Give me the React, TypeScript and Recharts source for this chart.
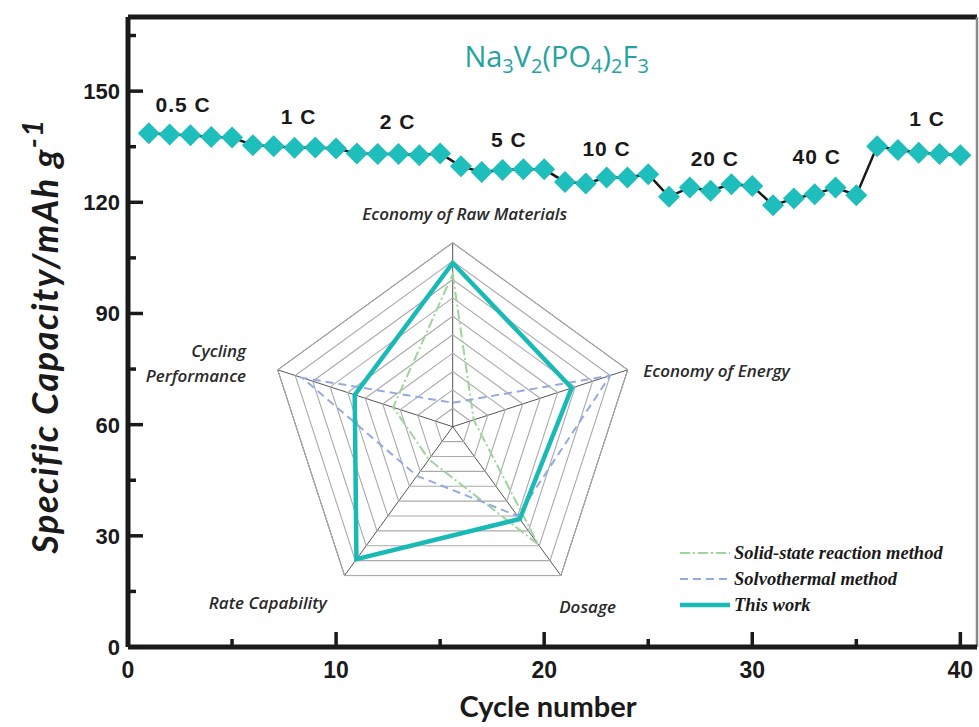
import React from 'react';
import {
  LineChart, Line, XAxis, YAxis, ReferenceDot, ReferenceLine,
  RadarChart, Radar, PolarGrid, PolarAngleAxis, PolarRadiusAxis, Legend,
} from 'recharts';

// ---------- main chart data ----------
const cycles = [1, 2, 3, 4, 5, 6, 7, 8, 9, 10, 11, 12, 13, 14, 15, 16, 17, 18, 19, 20,
  21, 22, 23, 24, 25, 26, 27, 28, 29, 30, 31, 32, 33, 34, 35, 36, 37, 38, 39, 40];
const capacity = [138.6, 138.3, 138.1, 137.6, 137.5, 135.4, 135.1, 134.7, 134.8, 134.5,
  133.2, 133.0, 133.0, 132.7, 133.2, 129.7, 128.2, 128.7, 128.9, 128.9,
  125.5, 125.1, 126.7, 126.7, 127.6, 121.5, 124.0, 123.1, 124.9, 124.4,
  119.2, 121.0, 122.2, 124.0, 121.9, 135.1, 134.1, 133.4, 133.0, 132.7];

const rateLabels = ['0.5 C', '1 C', '2 C', '5 C', '10 C', '20 C', '40 C', '1 C'];
const rateLabelCycle = [2.65, 8.2, 12.95, 18.3, 23.0, 28.2, 33.1, 38.4];
const rateLabelCapacity = [146.2, 143.1, 141.7, 136.8, 134.3, 131.6, 132.3, 142.4];

const xTicks = [0, 5, 10, 15, 20, 25, 30, 35, 40];
const yTicks = [0, 15, 30, 45, 60, 75, 90, 105, 120, 135, 150, 165];
const xDomain = [0, 40.8];
const yDomain = [0, 170];

// ---------- radar inset data ----------
const radarAxes = ['Economy of Raw Materials', 'Economy of Energy', 'Dosage', 'Rate Capability', 'Cycling Performance'];
const solidState = [8.3, 1.2, 7.9, 2.2, 3.4];
const solvothermal = [1.3, 9.0, 6.0, 3.3, 8.6];
const thisWork = [8.9, 6.8, 6.2, 8.9, 5.6];
const seriesNames = ['Solid-state reaction method', 'Solvothermal method', 'This work'];
const radarLevels = [1, 2, 3, 4, 5, 6, 7, 8, 9, 10];

const mainData = cycles.map((c, i) => ({ cycle: c, capacity: capacity[i] }));
const radarData = radarAxes.map((a, i) => ({
  axis: a,
  solid: solidState[i],
  solvo: solvothermal[i],
  work: thisWork[i],
}));

const TEAL = '#1EBEBC';
const INK = '#1a1a1a';
const R_OUT = 184;

const XTick = (props: any) => {
  const { x, y, payload } = props;
  const major = payload.value % 10 === 0;
  return (
    <g>
      <line x1={x} x2={x} y1={y} y2={y - (major ? 15 : 8)} stroke={INK} strokeWidth={3.5} />
      {major && (
        <text x={x} y={y + 31} textAnchor="middle" fill={INK}
          style={{ fontFamily: "'Liberation Sans Narrow', 'Liberation Sans', sans-serif", fontWeight: 700, fontSize: 23 }}>
          {payload.value}
        </text>
      )}
    </g>
  );
};

const YTick = (props: any) => {
  const { x, y, payload } = props;
  const major = payload.value % 30 === 0;
  return (
    <g>
      <line x1={x} x2={x + (major ? 15 : 8)} y1={y} y2={y} stroke={INK} strokeWidth={3.5} />
      {major && (
        <text x={x - 8} y={y + 8} textAnchor="end" fill={INK}
          style={{ fontFamily: "'Liberation Sans', Arial, sans-serif", fontWeight: 700, fontSize: 22 }}>
          {payload.value}
        </text>
      )}
    </g>
  );
};

const Diamond = (props: any) => {
  const { cx, cy, index } = props;
  if (cx == null || cy == null) return <g key={index} />;
  const s = 11;
  return (
    <path key={index} d={`M${cx},${cy - s}L${cx + s},${cy}L${cx},${cy + s}L${cx - s},${cy}Z`} fill={TEAL} stroke="none" />
  );
};

const YLabel = () => {
  const x = 58;
  const y = 336;
  return (
    <text x={x} y={y} transform={`rotate(-90 ${x} ${y})`} textAnchor="middle" fill={INK}
      style={{ fontFamily: 'Lato, sans-serif', fontStyle: 'italic', fontWeight: 700, fontSize: 36, letterSpacing: 1.5 }}>
      Specific Capacity/mAh g<tspan dy={-15} fontSize={29}>-1</tspan>
    </text>
  );
};

const XLabel = () => (
  <text x={548} y={717} textAnchor="middle" fill={INK}
    style={{ fontFamily: 'Lato, sans-serif', fontWeight: 700, fontSize: 29 }}>
    Cycle number
  </text>
);

const RadarTick = (props: any) => {
  const { x, y, payload } = props;
  const idx = radarAxes.indexOf(payload.value);
  const st = { fontFamily: "'Open Sans', sans-serif", fontStyle: 'italic' as const, fontWeight: 600, fontSize: 17, fill: '#2a2a2a' };
  if (idx === 0) return <text x={x + 12} y={y - 15} textAnchor="middle" style={st}>{payload.value}</text>;
  if (idx === 1) return <text x={x + 8} y={y + 10} textAnchor="start" style={st}>{payload.value}</text>;
  if (idx === 2) return <text x={x + 22} y={y + 31} textAnchor="middle" style={st}>{payload.value}</text>;
  if (idx === 3) return <text x={x - 72} y={y + 27} textAnchor="middle" style={st}>{payload.value}</text>;
  const words = String(payload.value).split(' ');
  return (
    <text x={x - 24} y={y - 10} textAnchor="end" style={st}>
      <tspan x={x - 24} dy={0}>{words[0]}</tspan>
      <tspan x={x - 24} dy={25}>{words[1]}</tspan>
    </text>
  );
};

const LegendContent = (props: any) => {
  const { payload } = props;
  const items = (payload || []).filter((p: any) => seriesNames.includes(p.value));
  return (
    <svg width={300} height={84}>
      {items.map((p: any, i: number) => {
        const y = 12 + i * 26;
        const isWork = p.value === 'This work';
        const dash = p.value === 'Solid-state reaction method' ? '10 3 2 3' : p.value === 'Solvothermal method' ? '8 5' : undefined;
        return (
          <g key={p.value}>
            <line x1={2} x2={52} y1={y} y2={y} stroke={p.color} strokeWidth={isWork ? 4.5 : 2} strokeDasharray={dash} />
            <text x={56} y={y + 6} fill="#1a1a1a"
              style={{ fontFamily: "'Liberation Serif', 'DejaVu Serif', serif", fontStyle: 'italic', fontWeight: 700, fontSize: 18.5 }}>
              {p.value}
            </text>
          </g>
        );
      })}
    </svg>
  );
};

export default function App() {
  return (
    <div style={{ position: 'absolute', left: 0, top: 0, width: 979, height: 727, background: '#fff', overflow: 'hidden' }}>
      <div style={{ position: 'absolute', left: 0, top: 0 }}>
        <LineChart width={979} height={727} data={mainData} margin={{ top: 17, right: 2, left: 68, bottom: 50 }}>
          <XAxis dataKey="cycle" type="number" domain={xDomain} ticks={xTicks} interval={0} allowDataOverflow
            height={30} tickSize={0} tickMargin={0} tickLine={false} tick={<XTick />}
            stroke={INK} strokeWidth={5} axisLine={{ stroke: INK, strokeWidth: 5 }} label={<XLabel />} />
          <YAxis type="number" domain={yDomain} ticks={yTicks} interval={0} allowDataOverflow width={60}
            tickSize={0} tickMargin={0} tickLine={false} tick={<YTick />}
            stroke={INK} strokeWidth={5} axisLine={{ stroke: INK, strokeWidth: 5 }} label={<YLabel />} />
          <ReferenceLine y={170} stroke={INK} strokeWidth={5} ifOverflow="visible" />
          <ReferenceLine x={40.8} stroke="#8a8a8a" strokeWidth={2.5} ifOverflow="visible" />
          <Line type="linear" dataKey="capacity" stroke={INK} strokeWidth={2.5}
            dot={<Diamond />} activeDot={false} isAnimationActive={false} />
          {rateLabels.map((t, i) => (
            <ReferenceDot key={`rl${i}`} x={rateLabelCycle[i]} y={rateLabelCapacity[i]} r={0} ifOverflow="visible"
              shape={(p: any) => (
                <text x={p.cx} y={p.cy + 7} textAnchor="middle" fill={INK}
                  style={{ fontFamily: "'Liberation Sans', Arial, sans-serif", fontWeight: 700, fontSize: 21, letterSpacing: 1 }}>
                  {t}
                </text>
              )} />
          ))}
          <ReferenceDot x={20.6} y={156.5} r={0} ifOverflow="visible"
            shape={(p: any) => (
              <text x={p.cx} y={p.cy} textAnchor="middle" fill="#24A3A0"
                style={{ fontFamily: "'Open Sans', sans-serif", fontWeight: 500, fontSize: 29 }}>
                Na<tspan fontSize={20} dy={6}>3</tspan><tspan dy={-6}>V</tspan><tspan fontSize={20} dy={6}>2</tspan><tspan dy={-6}>(PO</tspan><tspan fontSize={20} dy={6}>4</tspan><tspan dy={-6}>)</tspan><tspan fontSize={20} dy={6}>2</tspan><tspan dy={-6}>F</tspan><tspan fontSize={20} dy={6}>3</tspan>
              </text>
            )} />
        </LineChart>
      </div>
      <div style={{ position: 'absolute', left: 0, top: 0 }}>
        <RadarChart width={979} height={727} cx={452.7} cy={426.7} outerRadius={R_OUT} data={radarData}
          margin={{ top: 0, right: 0, bottom: 0, left: 0 }}>
          <PolarGrid gridType="polygon" polarRadius={[R_OUT]} radialLines stroke="#555" strokeWidth={1} />
          <PolarGrid gridType="polygon" polarRadius={radarLevels.map((l) => (l / 10) * R_OUT)} radialLines={false}
            stroke="#aaa" strokeWidth={1.1} />
          <PolarAngleAxis dataKey="axis" tick={<RadarTick />} tickLine={false} axisLine={false} tickSize={0} />
          <PolarRadiusAxis domain={[0, 10]} tick={false} axisLine={false} tickCount={11} />
          <Radar name={seriesNames[0]} dataKey="solid" stroke="#9FD49B" strokeWidth={2} strokeDasharray="10 3 2 3"
            fill="none" fillOpacity={0} isAnimationActive={false} />
          <Radar name={seriesNames[1]} dataKey="solvo" stroke="#93ACDF" strokeWidth={2} strokeDasharray="8 5"
            fill="none" fillOpacity={0} isAnimationActive={false} />
          <Radar name={seriesNames[2]} dataKey="work" stroke="#19BAB6" strokeWidth={4.5}
            fill="none" fillOpacity={0} isAnimationActive={false} />
          <Legend content={<LegendContent />} wrapperStyle={{ position: 'absolute', left: 678, top: 541, width: 300, height: 84 }} />
        </RadarChart>
      </div>
    </div>
  );
}
